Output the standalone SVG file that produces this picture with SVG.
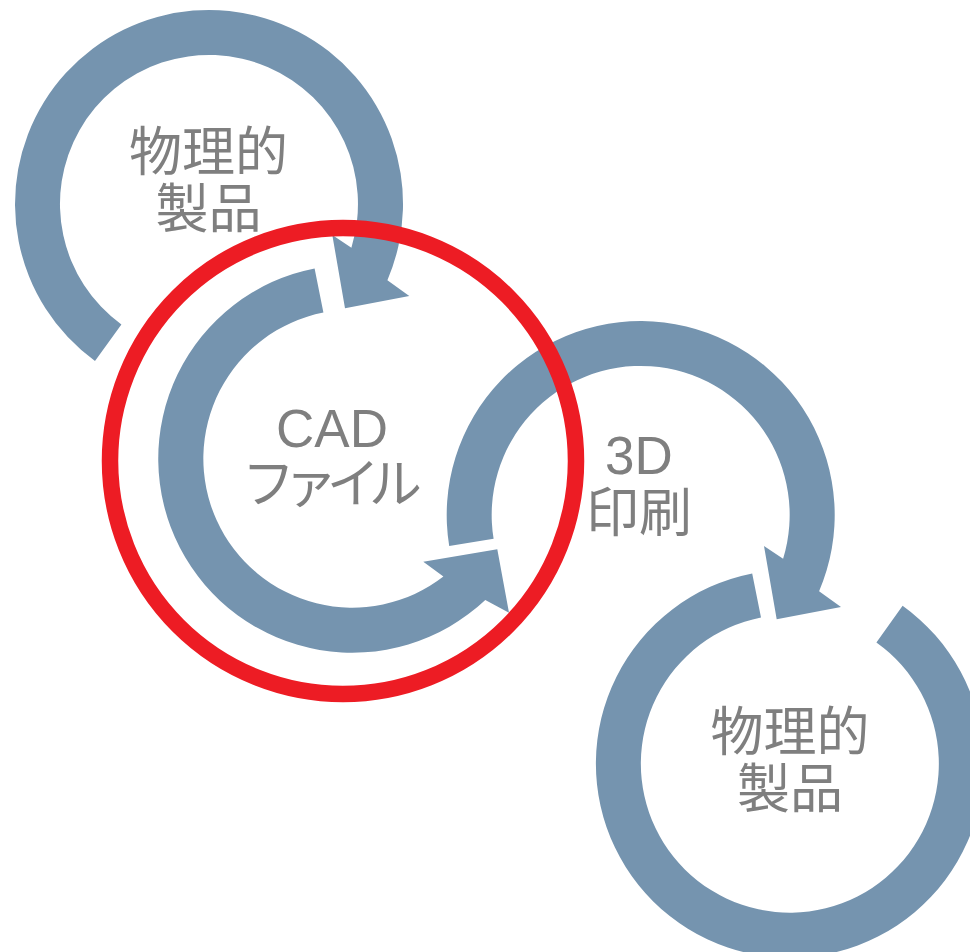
<svg xmlns="http://www.w3.org/2000/svg" width="970" height="952" viewBox="0 0 970 952">
<style>
.band{fill:#7594AF;stroke:none}
.lbl{font-family:"Liberation Sans","Noto Sans CJK JP",sans-serif;font-size:53px;fill:#7F7F7F;text-anchor:middle}
.ring{fill:none;stroke:#ED1C24;stroke-width:16.5}
</style>
<rect width="970" height="952" fill="#FFFFFF"/>
<g id="connectors">
<path class="band" d="M 95.0 360.9 A 194 194 0 1 1 387.4 280.2 L 409.3 296 L 345 308.3 L 332.3 235 L 351.4 247.7 A 149 149 0 1 0 121.4 324.5 Z"/>
<path class="band" d="M 314.6 268.4 A 194 194 0 1 0 485.3 599.9 L 509 612.7 L 497.3 549.3 L 423.3 561.7 L 443.4 576.6 A 149 149 0 1 1 323.4 312.5 Z"/>
<path class="band" d="M 449.2 546.0 A 194 194 0 1 1 819.1 591.2 L 841 607 L 776.7 619.3 L 764 546 L 783.1 558.7 A 149 149 0 1 0 493.6 538.8 Z"/>
<path class="band" d="M 752.2 573.4 A 194 194 0 1 0 902.6 605.8 L 876.4 642.4 A 149 149 0 1 1 761.0 617.5 Z"/>
</g>
<g id="node-physical-1">
<text class="lbl" x="208.5" y="171">物理的</text>
<text class="lbl" x="208.5" y="228">製品</text>
</g>
<g id="node-cad">
<text class="lbl" x="332" y="447">CAD</text>
<text class="lbl" x="332" y="503" textLength="180" lengthAdjust="spacing">ファイル</text>
</g>
<g id="node-3dprint">
<text class="lbl" x="639" y="474">3D</text>
<text class="lbl" x="639" y="532">印刷</text>
</g>
<g id="node-physical-2">
<text class="lbl" x="790" y="751">物理的</text>
<text class="lbl" x="790" y="808">製品</text>
</g>
<g id="highlight">
<circle class="ring" cx="343" cy="461" r="233"/>
</g>
</svg>
